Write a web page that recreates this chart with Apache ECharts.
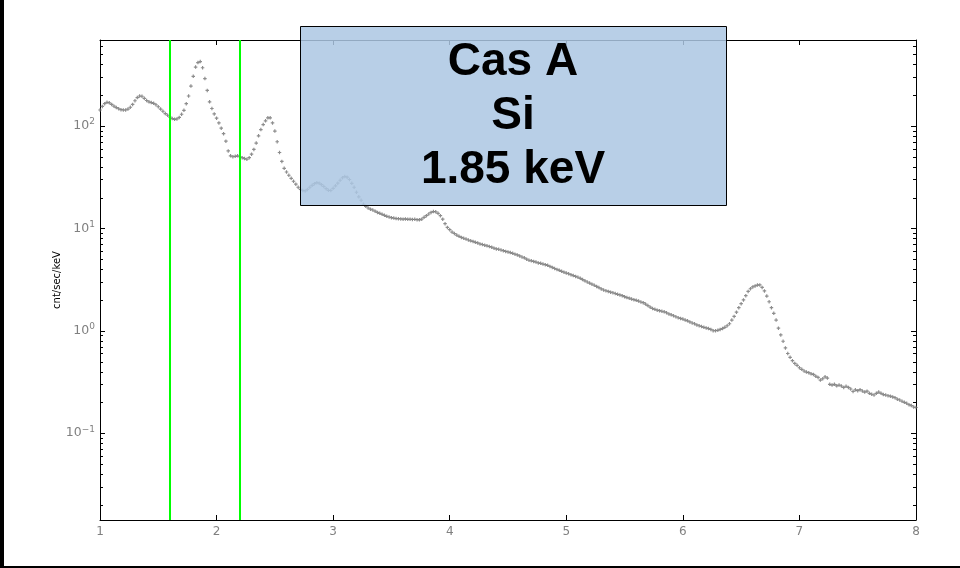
<!DOCTYPE html>
<html>
<head>
<meta charset="utf-8">
<script src="https://cdn.jsdelivr.net/npm/echarts@6/dist/echarts.min.js"></script>
<style>html,body{margin:0;padding:0;background:#fff}#c{width:960px;height:568px}</style>
</head>
<body>
<div id="c"></div>
<script>
// Energy channels (keV)
var energies = [
1.00,1.02,1.04,1.06,1.08,1.10,1.12,1.14,1.16,1.18,
1.20,1.22,1.24,1.26,1.28,1.30,1.32,1.34,1.36,1.38,
1.40,1.42,1.44,1.46,1.48,1.50,1.52,1.54,1.56,1.58,
1.60,1.62,1.64,1.66,1.68,1.70,1.72,1.74,1.76,1.78,
1.80,1.82,1.84,1.86,1.88,1.90,1.92,1.94,1.96,1.98,
2.00,2.02,2.04,2.06,2.08,2.10,2.12,2.14,2.16,2.18,
2.20,2.22,2.24,2.26,2.28,2.30,2.32,2.34,2.36,2.38,
2.40,2.42,2.44,2.46,2.48,2.50,2.52,2.54,2.56,2.58,
2.60,2.62,2.64,2.66,2.68,2.70,2.72,2.74,2.76,2.78,
2.80,2.82,2.84,2.86,2.88,2.90,2.92,2.94,2.96,2.98,
3.00,3.02,3.04,3.06,3.08,3.10,3.12,3.14,3.16,3.18,
3.20,3.22,3.24,3.26,3.28,3.30,3.32,3.34,3.36,3.38,
3.40,3.42,3.44,3.46,3.48,3.50,3.52,3.54,3.56,3.58,
3.60,3.62,3.64,3.66,3.68,3.70,3.72,3.74,3.76,3.78,
3.80,3.82,3.84,3.86,3.88,3.90,3.92,3.94,3.96,3.98,
4.00,4.02,4.04,4.06,4.08,4.10,4.12,4.14,4.16,4.18,
4.20,4.22,4.24,4.26,4.28,4.30,4.32,4.34,4.36,4.38,
4.40,4.42,4.44,4.46,4.48,4.50,4.52,4.54,4.56,4.58,
4.60,4.62,4.64,4.66,4.68,4.70,4.72,4.74,4.76,4.78,
4.80,4.82,4.84,4.86,4.88,4.90,4.92,4.94,4.96,4.98,
5.00,5.02,5.04,5.06,5.08,5.10,5.12,5.14,5.16,5.18,
5.20,5.22,5.24,5.26,5.28,5.30,5.32,5.34,5.36,5.38,
5.40,5.42,5.44,5.46,5.48,5.50,5.52,5.54,5.56,5.58,
5.60,5.62,5.64,5.66,5.68,5.70,5.72,5.74,5.76,5.78,
5.80,5.82,5.84,5.86,5.88,5.90,5.92,5.94,5.96,5.98,
6.00,6.02,6.04,6.06,6.08,6.10,6.12,6.14,6.16,6.18,
6.20,6.22,6.24,6.26,6.28,6.30,6.32,6.34,6.36,6.38,
6.40,6.42,6.44,6.46,6.48,6.50,6.52,6.54,6.56,6.58,
6.60,6.62,6.64,6.66,6.68,6.70,6.72,6.74,6.76,6.78,
6.80,6.82,6.84,6.86,6.88,6.90,6.92,6.94,6.96,6.98,
7.00,7.02,7.04,7.06,7.08,7.10,7.12,7.14,7.16,7.18,
7.20,7.22,7.24,7.26,7.28,7.30,7.32,7.34,7.36,7.38,
7.40,7.42,7.44,7.46,7.48,7.50,7.52,7.54,7.56,7.58,
7.60,7.62,7.64,7.66,7.68,7.70,7.72,7.74,7.76,7.78,
7.80,7.82,7.84,7.86,7.88,7.90,7.92,7.94,7.96,7.98,
8.00
];
// Count rate (cnt/sec/keV)
var counts = [
143,155,165,170,168,162,156,151,147,144,
143,143,146,152,162,176,189,196,195,186,
177,172,169,166,161,154,146,139,132,127,
122,118,116,117,121,130,142,165,196,245,
305,375,415,425,370,290,222,172,148,131,
119,107,95,84,71,57,51,50,50.5,51,
50,49,48,47.3,49,53,59,68,80,92,
103,112,120,120,107,89,70,55,45,38.5,
35.5,33,30.8,28.8,27,25.2,24,23.4,23.2,24,
25.2,26.3,27.3,27.9,27.6,26.7,25.6,24.4,23.5,23.4,
24.6,26,27.6,29.5,31.2,32.1,31.6,30,27.5,25.2,
22.5,20.3,18.8,17.2,16.4,15.8,15.4,15.1,14.7,14.3,
14.0,13.7,13.4,13.1,12.9,12.7,12.6,12.45,12.4,12.35,
12.3,12.35,12.25,12.3,12.2,12.25,12.15,12.1,12.3,12.8,
13.3,13.8,14.3,14.6,14.5,14.0,13.3,12.3,11.1,10.2,
9.7,9.2,8.9,8.6,8.35,8.15,8.0,7.85,7.7,7.55,
7.45,7.3,7.2,7.05,6.95,6.85,6.75,6.65,6.55,6.4,
6.3,6.25,6.15,6.05,5.95,5.88,5.8,5.7,5.6,5.5,
5.38,5.25,5.15,5.0,4.88,4.82,4.75,4.68,4.6,4.55,
4.48,4.42,4.35,4.25,4.15,4.05,3.97,3.89,3.8,3.73,
3.66,3.6,3.53,3.46,3.39,3.33,3.25,3.16,3.07,2.99,
2.92,2.85,2.78,2.71,2.64,2.56,2.5,2.46,2.42,2.38,
2.35,2.31,2.27,2.24,2.2,2.15,2.11,2.08,2.04,2.01,
1.98,1.95,1.91,1.88,1.82,1.76,1.70,1.65,1.62,1.59,
1.57,1.55,1.53,1.5,1.46,1.43,1.4,1.37,1.34,1.32,
1.3,1.27,1.25,1.22,1.19,1.17,1.14,1.12,1.10,1.08,
1.065,1.05,1.03,1.0,1.0,1.01,1.03,1.05,1.08,1.12,
1.17,1.27,1.38,1.52,1.68,1.84,2.0,2.2,2.42,2.57,
2.68,2.74,2.79,2.8,2.65,2.45,2.18,1.92,1.68,1.48,
1.27,1.06,0.91,0.79,0.68,0.6,0.55,0.51,0.48,0.46,
0.435,0.42,0.405,0.395,0.39,0.38,0.375,0.36,0.35,0.33,
0.34,0.355,0.345,0.3,0.295,0.3,0.29,0.295,0.289,0.28,
0.287,0.28,0.27,0.255,0.265,0.26,0.266,0.258,0.252,0.257,
0.245,0.24,0.236,0.245,0.252,0.245,0.238,0.236,0.232,0.23,
0.226,0.222,0.215,0.211,0.205,0.2,0.196,0.19,0.186,0.18,
0.178
];
// Green marker lines (keV)
var bandEdges = [1.6, 2.2];
// Axis ranges
var xRange = [1, 8];
var yRange = [0.0142, 690];
var yDecades = [-2, -1, 0, 1, 2];
var minorMultipliers = [2, 3, 4, 5, 6, 7, 8, 9];
// Annotation text
var boxLines = ['Cas A', 'Si', '1.85 keV'];
var yName = 'cnt/sec/keV';

var minorVals = [];
yDecades.forEach(function (d) {
  minorMultipliers.forEach(function (m) {
    var v = m * Math.pow(10, d);
    if (v > yRange[0] && v < yRange[1]) minorVals.push([xRange[0], v]);
  });
});

var spectrum = energies.map(function (e, i) { return [e, counts[i]]; });

function supFmt(v) {
  var l = Math.log10(v);
  var e = Math.round(l);
  if (Math.abs(l - e) > 1e-6) return '';
  var s = e < 0 ? '\u2212' + (-e) : String(e);
  return '10{sup|' + s + '}';
}

var tickCommon = { inside: true, length: 5, lineStyle: { color: '#000', width: 1 } };
var lineCommon = { show: true, onZero: false, lineStyle: { color: '#000', width: 1 } };
var font = 'DejaVu Sans';

var chart = echarts.init(document.getElementById('c'), null, { renderer: 'canvas' });
chart.setOption({
  animation: false,
  backgroundColor: '#fff',
  grid: { left: 100, right: 44, top: 40, bottom: 48, show: false },
  xAxis: [
    { type: 'value', min: xRange[0], max: xRange[1], interval: 1, position: 'bottom',
      axisLine: lineCommon, axisTick: tickCommon, splitLine: { show: false },
      axisLabel: { color: '#808080', fontSize: 12, margin: 6, fontFamily: font } },
    { type: 'value', min: xRange[0], max: xRange[1], interval: 1, position: 'top',
      axisLine: lineCommon, axisTick: tickCommon, splitLine: { show: false },
      axisLabel: { show: false } }
  ],
  yAxis: [
    { type: 'log', min: yRange[0], max: yRange[1], position: 'left',
      name: yName, nameLocation: 'middle', nameGap: 38, nameRotate: 90, nameMoveOverlap: false,
      nameTextStyle: { color: '#000', fontSize: 10, fontFamily: font },
      axisLine: lineCommon, axisTick: tickCommon, splitLine: { show: false },
      axisLabel: { color: '#808080', fontSize: 12.5, margin: 5, fontFamily: font,
        formatter: supFmt,
        rich: { sup: { fontSize: 9, color: '#808080', fontFamily: font, padding: [0, 0, 8, 0] } } } },
    { type: 'log', min: yRange[0], max: yRange[1], position: 'right',
      axisLine: lineCommon, axisTick: tickCommon, splitLine: { show: false },
      axisLabel: { show: false } }
  ],
  series: [
    { type: 'scatter', data: spectrum, xAxisIndex: 0, yAxisIndex: 0,
      symbol: 'path://M1,0H2V1H3V2H2V3H1V2H0V1H1Z', symbolSize: 3.5,
      itemStyle: { color: '#707070' }, silent: true, z: 3,
      markLine: { silent: true, symbol: 'none', label: { show: false },
        lineStyle: { color: '#00ff00', width: 2, type: 'solid' },
        data: bandEdges.map(function (x) { return { xAxis: x }; }) } },
    { type: 'custom', data: minorVals, xAxisIndex: 0, yAxisIndex: 0, silent: true, clip: false, z: 5,
      renderItem: function (params, api) {
        var v = api.value(1);
        var pl = api.coord([xRange[0], v]);
        var pr = api.coord([xRange[1], v]);
        var y = Math.round(pl[1]) + 0.5;
        return { type: 'group', children: [
          { type: 'line', shape: { x1: pl[0], y1: y, x2: pl[0] + 3, y2: y }, style: { stroke: '#000', lineWidth: 1 } },
          { type: 'line', shape: { x1: pr[0] - 3, y1: y, x2: pr[0], y2: y }, style: { stroke: '#000', lineWidth: 1 } }
        ] };
      } }
  ],
  graphic: [
    { type: 'rect', left: 0, top: 0, shape: { width: 4, height: 568 }, style: { fill: '#000' }, z: 200 },
    { type: 'rect', left: 0, top: 566, shape: { width: 960, height: 2 }, style: { fill: '#000' }, z: 200 },
    { type: 'rect', shape: { x: 300.5, y: 26.5, width: 426, height: 179 },
      style: { fill: 'rgba(172,199,227,0.85)', stroke: '#000', lineWidth: 1 }, z: 100 },
    { type: 'text', x: 513, y: 116, z: 101,
      style: { text: boxLines.join('\n'), align: 'center', verticalAlign: 'middle',
        font: 'bold 46px "Liberation Sans", Arial, sans-serif', lineHeight: 54, fill: '#000' } }
  ]
});
</script>
</body>
</html>
